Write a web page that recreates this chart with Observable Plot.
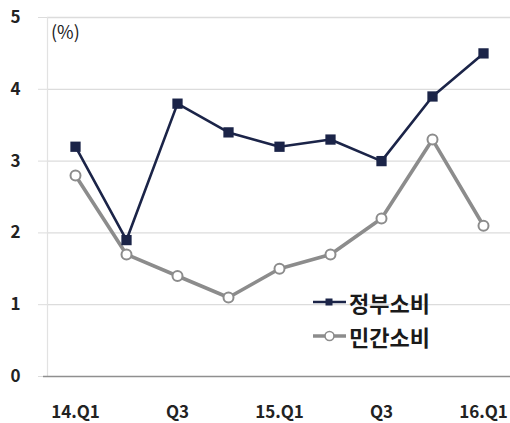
<!DOCTYPE html>
<html>
<head>
<meta charset="utf-8">
<script src="https://cdn.jsdelivr.net/npm/d3@7"></script>
<script src="https://cdn.jsdelivr.net/npm/@observablehq/plot@0.6"></script>
<style>
  html, body { margin: 0; padding: 0; background: #fff; }
  #wrap { position: relative; width: 510px; height: 423px; font-family: "Noto Sans CJK KR", "Noto Sans", sans-serif; }
  #unit { position: absolute; left: 51px; top: 18px; font-size: 18px; color: #222; }
  #legend { position: absolute; left: 312px; top: 285px; font-size: 22px; font-weight: bold; color: #1a1a1a; line-height: 34px; }
  #legend .row { display: flex; align-items: center; white-space: nowrap; }
  #legend svg { margin-right: 2px; }
</style>
</head>
<body>
<div id="wrap">
  <div id="unit">(%)</div>
  <div id="legend"></div>
</div>
<script>
// Quarterly growth, government vs private consumption (%)
const quarters = ["14.Q1", "14.Q2", "14.Q3", "14.Q4", "15.Q1", "15.Q2", "15.Q3", "15.Q4", "16.Q1"];
const tickLabels = ["14.Q1", "", "Q3", "", "15.Q1", "", "Q3", "", "16.Q1"];
const yTicks = [0, 1, 2, 3, 4, 5];
const seriesNames = ["정부소비", "민간소비"];
const government = [3.2, 1.9, 3.8, 3.4, 3.2, 3.3, 3.0, 3.9, 4.5];
const privateCons = [2.8, 1.7, 1.4, 1.1, 1.5, 1.7, 2.2, 3.3, 2.1];

const navy = "#1b2448";
const grey = "#8c8c8c";

const q = (d, i) => quarters[i];
const v = d => d;

// Faint vertical line along the left edge of the plotting area
function leftEdge(index, scales, values, dimensions) {
  const { marginLeft, marginTop, height, marginBottom } = dimensions;
  const svg = d3.create("svg:line")
    .attr("x1", marginLeft + 0.5).attr("x2", marginLeft + 0.5)
    .attr("y1", marginTop).attr("y2", height - marginBottom)
    .attr("stroke", "#e2e2e2").attr("stroke-width", 1.2);
  return svg.node();
}

const chart = Plot.plot({
  width: 510,
  height: 423,
  marginLeft: 47,
  marginRight: 0,
  marginTop: 17,
  marginBottom: 47,
  style: {
    fontFamily: "'Noto Sans CJK KR', 'Noto Sans', sans-serif",
    fontSize: "17px",
    fontWeight: "bold",
    color: "#222",
    background: "transparent"
  },
  x: { type: "point", domain: quarters, padding: 0.5, label: null },
  y: { domain: [0, 5], label: null },
  marks: [
    Plot.gridY(yTicks.filter(d => d > 0), { stroke: "#dcdcdc", strokeOpacity: 1, strokeWidth: 1.3 }),
    leftEdge,
    Plot.axisY({
      ticks: yTicks, tickSize: 9, tickPadding: 18, stroke: "#dcdcdc",
      strokeOpacity: 1, tickFormat: d => d, label: null
    }),
    Plot.ruleY([0], { stroke: "#8f8f8f", strokeWidth: 1.6, insetLeft: -4 }),
    Plot.axisX({
      tickSize: 0, tickPadding: 29, label: null,
      tickFormat: d => tickLabels[quarters.indexOf(d)]
    }),
    Plot.line(privateCons, { x: q, y: v, stroke: grey, strokeWidth: 3.6 }),
    Plot.dot(privateCons, { x: q, y: v, r: 5, fill: "white", stroke: grey, strokeWidth: 2 }),
    Plot.line(government, { x: q, y: v, stroke: navy, strokeWidth: 2.6 }),
    Plot.dot(government, { x: q, y: v, symbol: "square", r: 5.8, fill: navy, stroke: "none" })
  ]
});

const wrap = document.getElementById("wrap");
chart.style.position = "absolute";
chart.style.left = "0";
chart.style.top = "0";
wrap.insertBefore(chart, wrap.firstChild);

// Legend rows: line swatch with marker, then series name
const legend = d3.select("#legend");
const styles = [
  { stroke: navy, width: 2.6, marker: "square" },
  { stroke: grey, width: 3.6, marker: "circle" }
];
seriesNames.forEach((name, i) => {
  const s = styles[i];
  const row = legend.append("div").attr("class", "row");
  const sw = row.append("svg").attr("width", 35).attr("height", 14);
  sw.append("line").attr("x1", 1).attr("x2", 34).attr("y1", 7).attr("y2", 7)
    .attr("stroke", s.stroke).attr("stroke-width", s.width);
  if (s.marker === "square") {
    sw.append("rect").attr("x", 13.5).attr("y", 3.5).attr("width", 7).attr("height", 7).attr("fill", s.stroke);
  } else {
    sw.append("circle").attr("cx", 17.5).attr("cy", 7).attr("r", 4.5)
      .attr("fill", "white").attr("stroke", s.stroke).attr("stroke-width", 1.6);
  }
  row.append("span").text(name);
});
</script>
</body>
</html>
